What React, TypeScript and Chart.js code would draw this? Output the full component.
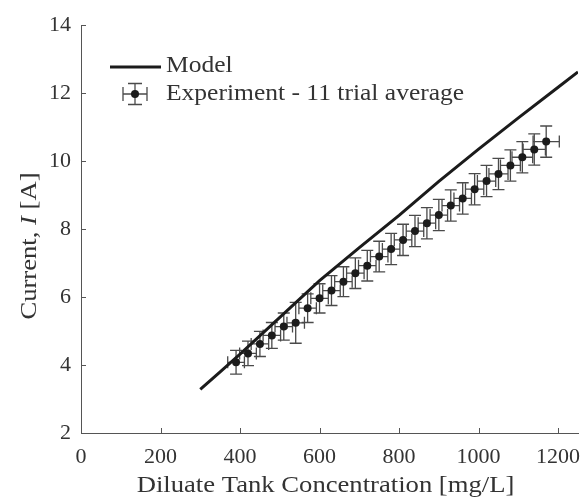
import { useEffect, useRef } from 'react';
import { Chart, registerables } from 'chart.js';

Chart.register(...registerables);

// Experimental averages (11 trials) with their spread
const concentration = [390, 420, 450, 480, 510, 540, 570, 600, 630, 660, 690, 720, 750, 780, 810, 840, 870, 900, 930, 960, 990, 1020, 1050, 1080, 1110, 1140, 1170];
const current = [4.08, 4.34, 4.62, 4.87, 5.13, 5.24, 5.67, 5.96, 6.19, 6.45, 6.70, 6.92, 7.19, 7.41, 7.68, 7.94, 8.17, 8.41, 8.69, 8.90, 9.17, 9.41, 9.62, 9.87, 10.11, 10.34, 10.57];
const concentrationErr = [21, 21, 22, 22, 22, 22, 22, 22, 22, 22, 22, 22, 22, 22, 22, 22, 22, 22, 22, 22, 23, 23, 24, 25, 26, 28, 33];
const currentErr = [0.35, 0.36, 0.37, 0.38, 0.40, 0.60, 0.42, 0.43, 0.44, 0.44, 0.45, 0.45, 0.45, 0.46, 0.46, 0.46, 0.46, 0.46, 0.46, 0.46, 0.46, 0.46, 0.46, 0.46, 0.46, 0.46, 0.46];

// Model prediction
const modelConcentration = [300, 350, 400, 500, 600, 700, 800, 900, 1000, 1100, 1200, 1250];
const modelCurrent = [3.28, 3.80, 4.32, 5.40, 6.48, 7.45, 8.40, 9.40, 10.35, 11.27, 12.17, 12.62];

// Axis ticks
const xTickValues = [0, 200, 400, 600, 800, 1000, 1200];
const yTickValues = [2, 4, 6, 8, 10, 12, 14];

const xTitle = 'Diluate Tank Concentration [mg/L]';
const legendModel = 'Model';
const legendExperiment = 'Experiment - 11 trial average';

const FONT = "'Liberation Serif', 'Times New Roman', serif";
const AXIS_COLOR = '#555555';
const TEXT_COLOR = '#333333';
const MARK_COLOR = '#1b1b1b';
const ERR_COLOR = '#4a4a4a';
// widen the serif glyphs a little, closer to a Computer Modern look
const TEXT_STRETCH = 1.11;

function drawStretched(ctx: CanvasRenderingContext2D, text: string, x: number, y: number, align: 'left' | 'center') {
  const w = ctx.measureText(text).width * TEXT_STRETCH;
  const startX = align === 'center' ? x - w / 2 : x;
  ctx.save();
  ctx.translate(startX, y);
  ctx.scale(TEXT_STRETCH, 1);
  ctx.textAlign = 'left';
  ctx.fillText(text, 0, 0);
  ctx.restore();
}

const errorBarPlugin = {
  id: 'errorBars',
  beforeDatasetsDraw(chart: any) {
    const { ctx, scales } = chart;
    const x = scales.x;
    const y = scales.y;
    const cap = 6;
    ctx.save();
    ctx.strokeStyle = ERR_COLOR;
    ctx.lineWidth = 1.3;
    concentration.forEach((c, i) => {
      const px = x.getPixelForValue(c);
      const py = y.getPixelForValue(current[i]);
      const xl = x.getPixelForValue(c - concentrationErr[i]);
      const xr = x.getPixelForValue(c + concentrationErr[i]);
      const yt = y.getPixelForValue(current[i] + currentErr[i]);
      const yb = y.getPixelForValue(current[i] - currentErr[i]);
      ctx.beginPath();
      ctx.moveTo(xl, py); ctx.lineTo(xr, py);
      ctx.moveTo(xl, py - cap); ctx.lineTo(xl, py + cap);
      ctx.moveTo(xr, py - cap); ctx.lineTo(xr, py + cap);
      ctx.moveTo(px, yt); ctx.lineTo(px, yb);
      ctx.moveTo(px - cap, yt); ctx.lineTo(px + cap, yt);
      ctx.moveTo(px - cap, yb); ctx.lineTo(px + cap, yb);
      ctx.stroke();
    });
    ctx.restore();
  },
};

const decorPlugin = {
  id: 'decor',
  afterDraw(chart: any) {
    const { ctx, scales, chartArea } = chart;
    const x = scales.x;
    const y = scales.y;
    ctx.save();

    // inward tick marks
    ctx.strokeStyle = AXIS_COLOR;
    ctx.lineWidth = 1;
    ctx.beginPath();
    xTickValues.forEach((v) => {
      const px = Math.round(x.getPixelForValue(v)) + 0.5;
      ctx.moveTo(px, chartArea.bottom);
      ctx.lineTo(px, chartArea.bottom - 5);
    });
    yTickValues.forEach((v) => {
      const py = Math.round(y.getPixelForValue(v)) + 0.5;
      ctx.moveTo(chartArea.left, py);
      ctx.lineTo(chartArea.left + 5, py);
    });
    ctx.stroke();

    // x axis title
    ctx.fillStyle = TEXT_COLOR;
    ctx.font = `24px ${FONT}`;
    ctx.textBaseline = 'middle';
    drawStretched(ctx, xTitle, (chartArea.left + chartArea.right) / 2 - 4, 486, 'center');

    // y axis title with italic symbol
    ctx.save();
    ctx.translate(30, 246);
    ctx.rotate(-Math.PI / 2);
    ctx.scale(TEXT_STRETCH, 1);
    const parts = [
      { t: 'Current, ', f: `24px ${FONT}` },
      { t: 'I', f: `italic 24px ${FONT}` },
      { t: ' [A]', f: `24px ${FONT}` },
    ];
    let total = 0;
    parts.forEach((p) => { ctx.font = p.f; total += ctx.measureText(p.t).width; });
    let cx = -total / 2;
    ctx.textAlign = 'left';
    parts.forEach((p) => {
      ctx.font = p.f;
      ctx.fillText(p.t, cx, 0);
      cx += ctx.measureText(p.t).width;
    });
    ctx.restore();

    // legend
    ctx.strokeStyle = MARK_COLOR;
    ctx.lineWidth = 3;
    ctx.beginPath();
    ctx.moveTo(110, 67);
    ctx.lineTo(161, 67);
    ctx.stroke();

    const lx = 135;
    const ly = 94;
    ctx.strokeStyle = ERR_COLOR;
    ctx.lineWidth = 1.3;
    ctx.beginPath();
    ctx.moveTo(lx - 12, ly); ctx.lineTo(lx + 12, ly);
    ctx.moveTo(lx - 12, ly - 7); ctx.lineTo(lx - 12, ly + 7);
    ctx.moveTo(lx + 12, ly - 7); ctx.lineTo(lx + 12, ly + 7);
    ctx.moveTo(lx, ly - 10.5); ctx.lineTo(lx, ly + 10.5);
    ctx.moveTo(lx - 7, ly - 10.5); ctx.lineTo(lx + 7, ly - 10.5);
    ctx.moveTo(lx - 7, ly + 10.5); ctx.lineTo(lx + 7, ly + 10.5);
    ctx.stroke();
    ctx.fillStyle = MARK_COLOR;
    ctx.beginPath();
    ctx.arc(lx, ly, 4, 0, Math.PI * 2);
    ctx.fill();

    ctx.fillStyle = TEXT_COLOR;
    ctx.font = `23px ${FONT}`;
    ctx.textBaseline = 'middle';
    drawStretched(ctx, legendModel, 166, 66, 'left');
    drawStretched(ctx, legendExperiment, 166, 94, 'left');

    ctx.restore();
  },
};

export default function App() {
  const canvasRef = useRef<HTMLCanvasElement | null>(null);

  useEffect(() => {
    const canvas = canvasRef.current;
    if (!canvas) return;
    const chart = new Chart(canvas, {
      type: 'scatter',
      data: {
        datasets: [
          {
            label: legendModel,
            data: modelConcentration.map((c, i) => ({ x: c, y: modelCurrent[i] })),
            showLine: true,
            borderColor: MARK_COLOR,
            borderWidth: 3,
            pointRadius: 0,
            fill: false,
            order: 2,
          },
          {
            label: legendExperiment,
            data: concentration.map((c, i) => ({ x: c, y: current[i] })),
            showLine: false,
            pointRadius: 4,
            pointBackgroundColor: MARK_COLOR,
            pointBorderColor: MARK_COLOR,
            pointBorderWidth: 0,
            order: 1,
          },
        ],
      },
      options: {
        responsive: false,
        animation: false,
        devicePixelRatio: 1,
        layout: { padding: { top: 25, right: 5, left: 0, bottom: 0 } },
        plugins: {
          legend: { display: false },
          tooltip: { enabled: false },
        },
        scales: {
          x: {
            type: 'linear',
            min: 0,
            max: 1250,
            afterBuildTicks: (scale: any) => {
              scale.ticks = xTickValues.map((v) => ({ value: v }));
            },
            afterFit: (scale: any) => {
              scale.height = 65;
              scale.paddingLeft = 0;
              scale.paddingRight = 0;
            },
            grid: { drawOnChartArea: false, drawTicks: false },
            border: { display: true, color: AXIS_COLOR, width: 1 },
            ticks: {
              padding: 11,
              color: TEXT_COLOR,
              font: { family: FONT, size: 22 },
              maxRotation: 0,
              callback: (v: any) => String(v),
            },
          },
          y: {
            type: 'linear',
            min: 2,
            max: 14,
            afterBuildTicks: (scale: any) => {
              scale.ticks = yTickValues.map((v) => ({ value: v }));
            },
            afterFit: (scale: any) => {
              scale.width = 81;
              scale.paddingTop = 0;
              scale.paddingBottom = 0;
            },
            grid: { drawOnChartArea: false, drawTicks: false },
            border: { display: true, color: AXIS_COLOR, width: 1 },
            ticks: {
              padding: 10,
              color: TEXT_COLOR,
              font: { family: FONT, size: 22 },
              callback: (v: any) => String(v),
            },
          },
        },
      },
      plugins: [errorBarPlugin, decorPlugin],
    });
    return () => chart.destroy();
  }, []);

  return (
    <div style={{ position: 'fixed', left: 0, top: 0, width: 583, height: 498, background: '#ffffff' }}>
      <canvas ref={canvasRef} width={583} height={498} />
    </div>
  );
}
